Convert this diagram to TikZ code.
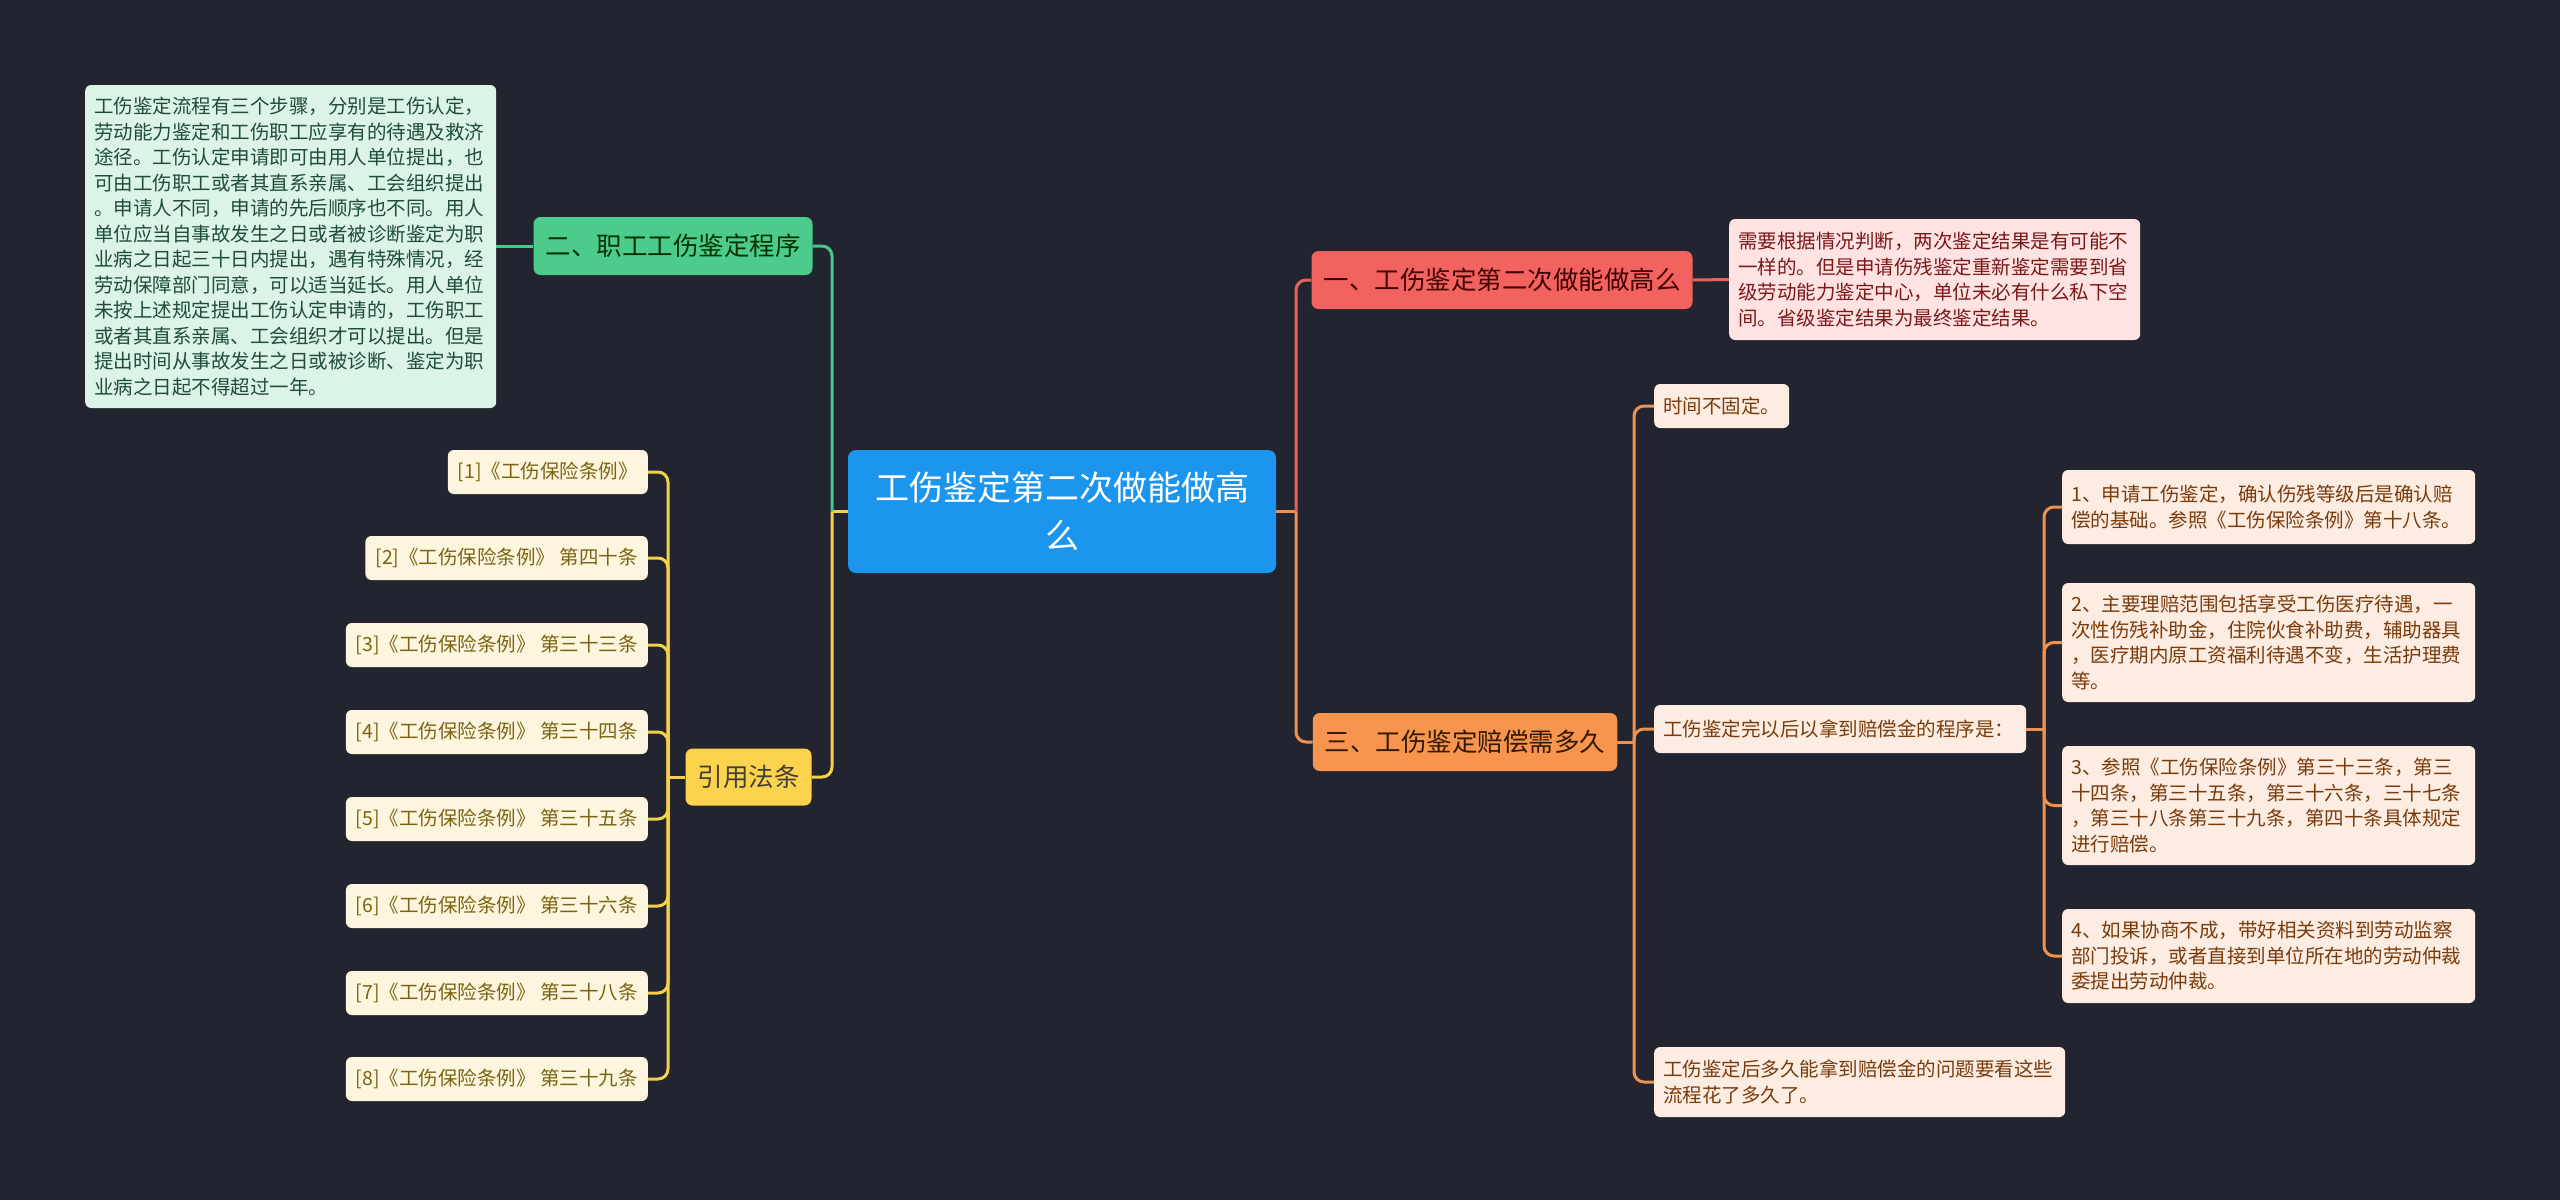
\documentclass[tikz,border=0pt]{standalone}
\usepackage{fontspec}
\setmainfont{Noto Sans CJK SC}
\definecolor{bg}{HTML}{22252F}
\definecolor{cblue}{HTML}{1B95EE}
\definecolor{cred}{HTML}{F26360}
\definecolor{cgreen}{HTML}{4CCB8D}
\definecolor{corange}{HTML}{F7954E}
\definecolor{cyellow}{HTML}{FCD34D}
\definecolor{lred}{HTML}{E8625C}
\definecolor{lgreen}{HTML}{48C98A}
\definecolor{lorange}{HTML}{F0924F}
\definecolor{lyellow}{HTML}{F5D04A}
\definecolor{bpink}{HTML}{FFE3E3}
\definecolor{bmint}{HTML}{DCF4E8}
\definecolor{bpeach}{HTML}{FDECE1}
\definecolor{bcream}{HTML}{FDF5DD}
\definecolor{tpink}{HTML}{7B1818}
\definecolor{tmint}{HTML}{1F4D35}
\definecolor{tpeach}{HTML}{7A3B0C}
\definecolor{tcream}{HTML}{7A6414}
\begin{document}
\begin{tikzpicture}[x=1pt,y=-1pt,
  rootbox/.style={rounded corners=8pt, fill=cblue, text=white, align=center,
    minimum width=428pt, minimum height=123pt, inner sep=0pt,
    font=\fontsize{34}{48}\selectfont},
  topic/.style={rounded corners=7pt, inner xsep=12pt, inner ysep=0pt,
    minimum height=58pt, font=\fontsize{25.5}{30}\selectfont},
  leaf/.style={rounded corners=6pt, anchor=west, align=left, inner xsep=9pt,
    inner ysep=0pt, font=\fontsize{19.5}{25.5}\selectfont},
  law/.style={rounded corners=6pt, anchor=east, fill=bcream, text=tcream,
    inner xsep=10pt, inner ysep=0pt, minimum height=44pt,
    font=\fontsize{19.5}{24}\selectfont},
  link/.style={line width=3pt, rounded corners=10pt},
]
\useasboundingbox (0,0) rectangle (2560,1200);
\fill[bg] (0,0) rectangle (2560,1200);

% root
\node[rootbox] (root) at (1062,511.5) {工伤鉴定第二次做能做高\\么};

% main topics
\node[topic, fill=cred, text=black!75!red, minimum width=380pt] (t1) at (1502,280) {一、工伤鉴定第二次做能做高么};
\node[topic, fill=cgreen, text=black!80!green, minimum width=278pt] (t2) at (673,246) {二、职工工伤鉴定程序};
\node[topic, fill=corange, text=black!80!orange, minimum width=302pt] (t3) at (1465,742) {三、工伤鉴定赔偿需多久};
\node[topic, fill=cyellow, text=black!85!yellow, minimum width=125pt, minimum height=57pt] (t4) at (748.5,777) {引用法条};

% branch 1 detail
\node[leaf, fill=bpink, text=tpink, text width=393pt, minimum height=121pt] (d1) at (1729,279.5) {需要根据情况判断，两次鉴定结果是有可能不\\一样的。但是申请伤残鉴定重新鉴定需要到省\\级劳动能力鉴定中心，单位未必有什么私下空\\间。省级鉴定结果为最终鉴定结果。};

% branch 2 detail
\node[leaf, fill=bmint, text=tmint, text width=393pt, minimum height=323pt] (d2) at (85,246.5) {工伤鉴定流程有三个步骤，分别是工伤认定，\\劳动能力鉴定和工伤职工应享有的待遇及救济\\途径。工伤认定申请即可由用人单位提出，也\\可由工伤职工或者其直系亲属、工会组织提出\\。申请人不同，申请的先后顺序也不同。用人\\单位应当自事故发生之日或者被诊断鉴定为职\\业病之日起三十日内提出，遇有特殊情况，经\\劳动保障部门同意，可以适当延长。用人单位\\未按上述规定提出工伤认定申请的，工伤职工\\或者其直系亲属、工会组织才可以提出。但是\\提出时间从事故发生之日或被诊断、鉴定为职\\业病之日起不得超过一年。};

% branch 3 details
\node[leaf, fill=bpeach, text=tpeach, text width=117pt, minimum height=44pt] (e1) at (1654,406) {时间不固定。};
\node[leaf, fill=bpeach, text=tpeach, text width=354pt, minimum height=48pt] (e2) at (1654,729) {工伤鉴定完以后以拿到赔偿金的程序是：};
\node[leaf, fill=bpeach, text=tpeach, text width=393pt, minimum height=70pt] (e3) at (1654,1082) {工伤鉴定后多久能拿到赔偿金的问题要看这些\\流程花了多久了。};

\node[leaf, fill=bpeach, text=tpeach, text width=395pt, minimum height=74pt] (f1) at (2062,507) {1、申请工伤鉴定，确认伤残等级后是确认赔\\偿的基础。参照《工伤保险条例》第十八条。};
\node[leaf, fill=bpeach, text=tpeach, text width=395pt, minimum height=119pt] (f2) at (2062,642.5) {2、主要理赔范围包括享受工伤医疗待遇，一\\次性伤残补助金，住院伙食补助费，辅助器具\\，医疗期内原工资福利待遇不变，生活护理费\\等。};
\node[leaf, fill=bpeach, text=tpeach, text width=395pt, minimum height=119pt] (f3) at (2062,805.5) {3、参照《工伤保险条例》第三十三条，第三\\十四条，第三十五条，第三十六条，三十七条\\，第三十八条第三十九条，第四十条具体规定\\进行赔偿。};
\node[leaf, fill=bpeach, text=tpeach, text width=395pt, minimum height=94pt] (f4) at (2062,956) {4、如果协商不成，带好相关资料到劳动监察\\部门投诉，或者直接到单位所在地的劳动仲裁\\委提出劳动仲裁。};

% branch 4 laws
\node[law] (g1) at (648,472) {[1]《工伤保险条例》};
\node[law] (g2) at (648,558) {[2]《工伤保险条例》 第四十条};
\node[law] (g3) at (648,645) {[3]《工伤保险条例》 第三十三条};
\node[law] (g4) at (648,732) {[4]《工伤保险条例》 第三十四条};
\node[law] (g5) at (648,819) {[5]《工伤保险条例》 第三十五条};
\node[law] (g6) at (648,906) {[6]《工伤保险条例》 第三十六条};
\node[law] (g7) at (648,993) {[7]《工伤保险条例》 第三十八条};
\node[law] (g8) at (648,1079) {[8]《工伤保险条例》 第三十九条};

% junction points
\coordinate (rj) at (1296,511.5);
\coordinate (lj) at (832,511.5);
\coordinate (oj) at (1634,742);
\coordinate (pj) at (2044,729);
\coordinate (yj) at (668,777);

% connectors right of root
\draw[link, lorange] (root.east) -- (rj);
\draw[link, lred] (rj) |- (t1.west);
\draw[link, lorange] (rj) |- (t3.west);
% connectors left of root
\draw[link, lyellow] (root.west) -- (lj);
\draw[link, lgreen] (lj) |- (t2.east);
\draw[link, lyellow] (lj) |- (t4.east);

% branch 1
\draw[link, lred] (t1.east) -- (d1.west);
% branch 2
\draw[link, lgreen] (t2.west) -- (t2.west -| d2.east);
% branch 3
\draw[link, lorange] (t3.east) -- (oj);
\draw[link, lorange] (oj) |- (e1.west);
\draw[link, lorange] (oj) |- (e2.west);
\draw[link, lorange] (oj) |- (e3.west);
\draw[link, lorange] (e2.east) -- (pj);
\draw[link, lorange] (pj) |- (f1.west);
\draw[link, lorange] (pj) |- (f2.west);
\draw[link, lorange] (pj) |- (f3.west);
\draw[link, lorange] (pj) |- (f4.west);
% branch 4
\draw[link, lyellow] (t4.west) -- (yj);
\foreach \k in {1,...,8}{
  \draw[link, lyellow] (yj) |- (g\k.east);
}
\end{tikzpicture}
\end{document}
